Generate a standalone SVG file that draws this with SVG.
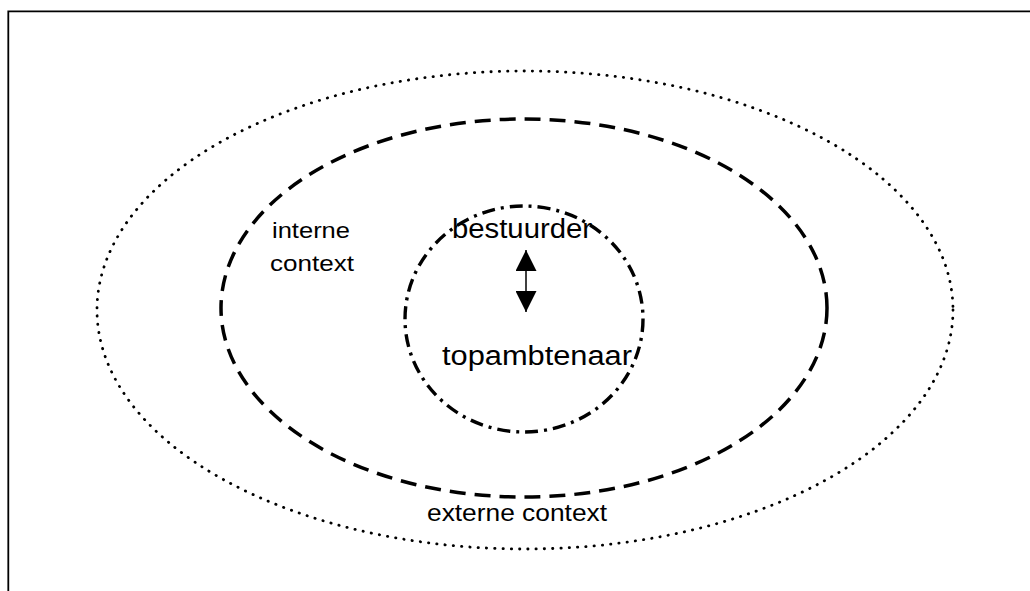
<svg xmlns="http://www.w3.org/2000/svg" width="1030" height="591" viewBox="0 0 1030 591">
<defs>
<style>
.lbl{font-family:"Liberation Sans",Arial,sans-serif;fill:#000;}
.ring{fill:none;stroke:#000;}
</style>
<marker id="ah" viewBox="0 0 10 10" refX="10" refY="5" markerWidth="21" markerHeight="21" markerUnits="userSpaceOnUse" orient="auto-start-reverse">
<path d="M0,0 L10,5 L0,10 Z" fill="#000"/>
</marker>
</defs>
<rect width="1030" height="591" fill="#fff"/>
<path d="M8.3,591 V11.3 H1030" fill="none" stroke="#000" stroke-width="1.8"/>
<g id="externe">
<ellipse class="ring" cx="525" cy="310" rx="428" ry="239" stroke-width="2.8" stroke-linecap="round" stroke-dasharray="0.3 8"/>
<text class="lbl" x="517" y="521" font-size="23" text-anchor="middle" textLength="180" lengthAdjust="spacingAndGlyphs">externe context</text>
</g>
<g id="interne">
<ellipse class="ring" cx="524" cy="308" rx="303" ry="189" stroke-width="3.5" stroke-dasharray="16 9"/>
<text class="lbl" x="311" y="238" font-size="22.5" text-anchor="middle" textLength="78" lengthAdjust="spacingAndGlyphs">interne</text>
<text class="lbl" x="312" y="271" font-size="22.5" text-anchor="middle" textLength="84" lengthAdjust="spacingAndGlyphs">context</text>
</g>
<g id="kern">
<ellipse class="ring" cx="524" cy="319" rx="119" ry="113" stroke-width="3.4" stroke-dasharray="13 6 3 6"/>
<text class="lbl" x="522" y="238" font-size="27" text-anchor="middle" textLength="140" lengthAdjust="spacingAndGlyphs">bestuurder</text>
<text class="lbl" x="537" y="365" font-size="27" text-anchor="middle" textLength="190" lengthAdjust="spacingAndGlyphs">topambtenaar</text>
</g>
<g id="connectors">
<line x1="526" y1="250" x2="526" y2="312" stroke="#000" stroke-width="1.5" marker-start="url(#ah)" marker-end="url(#ah)"/>
</g>
</svg>
